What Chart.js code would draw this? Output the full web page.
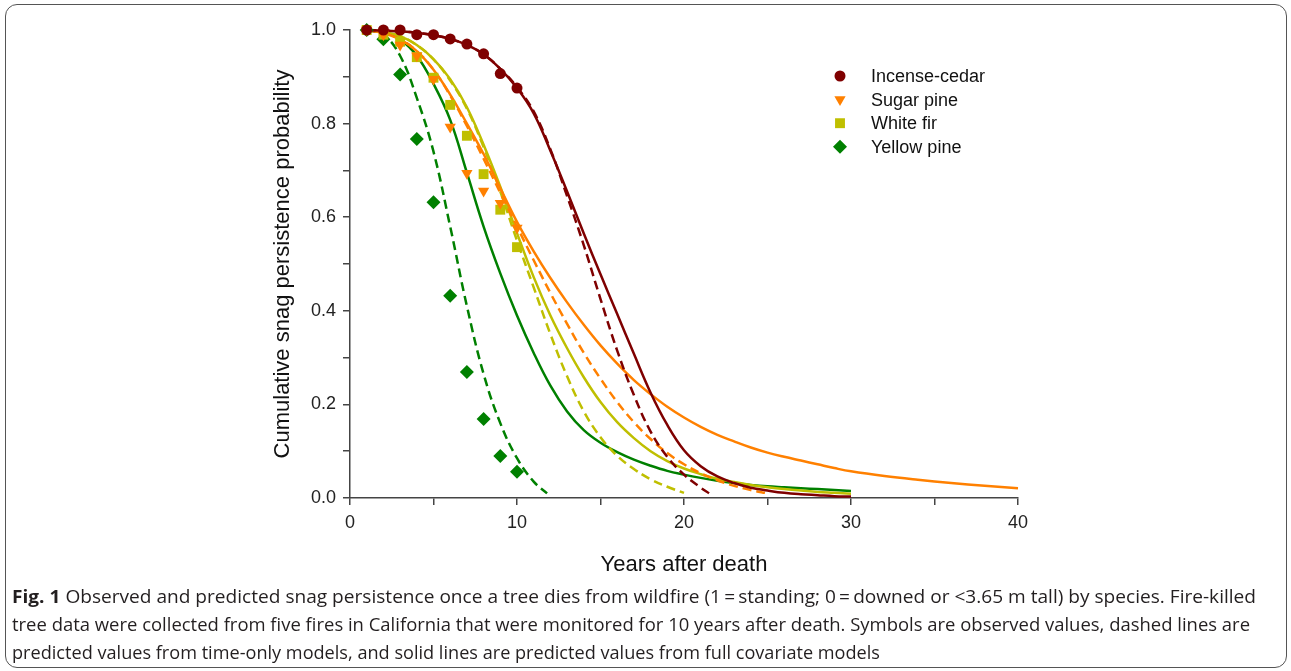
<!DOCTYPE html>
<html lang="en">
<head>
<meta charset="UTF-8">
<title>Snag persistence</title>
<script src="https://cdn.jsdelivr.net/npm/chart.js"></script>
<style>
  body { margin: 0; background: #fff; width: 1291px; height: 671px; overflow: hidden; position: relative; }
  .frame { position: absolute; left: 5px; top: 4px; width: 1282px; height: 664px; box-sizing: border-box;
           border: 1.5px solid #555; border-radius: 12px; }
  #chart { position: absolute; left: 0; top: 0; }
  .caption { position: absolute; left: 12px; top: 582px; font-family: "Open Sans", sans-serif; font-size: 18px;
             line-height: 28px; color: #231f20; }
  .caption span { display: inline-block; white-space: nowrap; transform-origin: 0 50%; }
</style>
</head>
<body>
<div class="frame"></div>
<canvas id="chart" width="1291" height="600"></canvas>
<div class="caption">
  <span data-end="1256"><b>Fig. 1</b> Observed and predicted snag persistence once a tree dies from wildfire (1&#8201;=&#8201;standing; 0&#8201;=&#8201;downed or &lt;3.65 m tall) by species. Fire-killed</span><br>
  <span data-end="1250">tree data were collected from five fires in California that were monitored for 10 years after death. Symbols are observed values, dashed lines are</span><br>
  <span data-end="880">predicted values from time-only models, and solid lines are predicted values from full covariate models</span>
</div>
<script>
// species
const speciesNames = ['Incense-cedar', 'Sugar pine', 'White fir', 'Yellow pine'];
const speciesColors = ['#7f0000', '#ff8000', '#bfbf00', '#008000'];

// observed values, years 1-10
const obsYears = [1, 2, 3, 4, 5, 6, 7, 8, 9, 10];
const cedarObs = [1.0, 1.0, 1.0, 0.99, 0.99, 0.981, 0.97, 0.949, 0.907, 0.876];
const sugarObs = [1.0, 0.99, 0.968, 0.945, 0.895, 0.793, 0.694, 0.656, 0.63, 0.577];
const firObs = [1.0, 0.99, 0.975, 0.942, 0.898, 0.84, 0.774, 0.692, 0.616, 0.536];
const yellowObs = [1.0, 0.98, 0.905, 0.767, 0.632, 0.432, 0.269, 0.169, 0.09, 0.056];

// full covariate models (solid)
const cedarFullX = [1, 2, 3, 4, 5, 6, 7, 8, 9, 10, 11, 12, 13, 14, 15, 16, 17, 18, 19, 20, 21, 22, 23, 24, 25, 26, 27, 28, 29, 30];
const cedarFullY = [1.0, 0.999, 0.997, 0.994, 0.989, 0.981, 0.968, 0.948, 0.917, 0.876, 0.822, 0.742, 0.655, 0.565, 0.478, 0.393, 0.308, 0.225, 0.156, 0.102, 0.068, 0.046, 0.032, 0.022, 0.016, 0.011, 0.008, 0.006, 0.004, 0.003];
const sugarFullX = [1, 2, 3, 4, 5, 6, 7, 8, 9, 10, 11, 12, 13, 14, 15, 16, 17, 18, 19, 20, 21, 22, 23, 24, 25, 26, 27, 28, 29, 30, 32, 34, 36, 38, 40];
const sugarFullY = [1.0, 0.993, 0.98, 0.955, 0.915, 0.862, 0.8, 0.735, 0.662, 0.59, 0.527, 0.47, 0.418, 0.37, 0.326, 0.287, 0.252, 0.222, 0.195, 0.172, 0.152, 0.135, 0.121, 0.108, 0.097, 0.088, 0.08, 0.072, 0.064, 0.057, 0.047, 0.039, 0.032, 0.026, 0.021];
const firFullX = [1, 2, 3, 4, 5, 6, 7, 8, 9, 10, 11, 12, 13, 14, 15, 16, 17, 18, 19, 20, 21, 22, 23, 24, 25, 26, 27, 28, 29, 30];
const firFullY = [1.0, 0.996, 0.987, 0.968, 0.938, 0.895, 0.835, 0.755, 0.665, 0.566, 0.472, 0.39, 0.32, 0.258, 0.205, 0.162, 0.128, 0.1, 0.079, 0.063, 0.051, 0.041, 0.034, 0.028, 0.023, 0.019, 0.016, 0.013, 0.011, 0.009];
const yellowFullX = [1, 2, 3, 4, 5, 6, 7, 8, 9, 10, 11, 12, 13, 14, 15, 16, 17, 18, 19, 20, 21, 22, 23, 24, 25, 26, 27, 28, 29, 30];
const yellowFullY = [1.0, 0.995, 0.98, 0.945, 0.885, 0.808, 0.695, 0.58, 0.48, 0.39, 0.31, 0.24, 0.185, 0.145, 0.118, 0.098, 0.082, 0.069, 0.058, 0.05, 0.043, 0.037, 0.032, 0.028, 0.025, 0.023, 0.021, 0.019, 0.017, 0.015];

// time-only models (dashed)
const cedarTimeX = [1, 2, 3, 4, 5, 6, 7, 8, 9, 10, 11, 12, 13, 14, 15, 16, 17, 18, 19, 20, 21, 21.5];
const cedarTimeY = [1.0, 0.999, 0.997, 0.994, 0.989, 0.981, 0.968, 0.948, 0.917, 0.878, 0.826, 0.745, 0.645, 0.54, 0.425, 0.315, 0.22, 0.142, 0.088, 0.05, 0.022, 0.01];
const sugarTimeX = [1, 2, 3, 4, 5, 6, 7, 8, 9, 10, 11, 12, 13, 14, 15, 16, 17, 18, 19, 20, 21, 22, 23, 24, 25];
const sugarTimeY = [1.0, 0.993, 0.98, 0.955, 0.915, 0.86, 0.795, 0.725, 0.652, 0.58, 0.508, 0.438, 0.372, 0.31, 0.255, 0.205, 0.162, 0.126, 0.096, 0.072, 0.053, 0.038, 0.026, 0.017, 0.01];
const firTimeX = [1, 2, 3, 4, 5, 6, 7, 8, 9, 10, 11, 12, 13, 14, 15, 16, 17, 18, 19, 20];
const firTimeY = [1.0, 0.996, 0.987, 0.968, 0.937, 0.892, 0.832, 0.75, 0.655, 0.55, 0.45, 0.35, 0.26, 0.185, 0.13, 0.09, 0.062, 0.04, 0.024, 0.011];
const yellowTimeX = [1, 2, 3, 4, 5, 6, 7, 8, 9, 10, 11, 11.8];
const yellowTimeY = [1.0, 0.99, 0.945, 0.855, 0.74, 0.58, 0.41, 0.265, 0.16, 0.085, 0.035, 0.01];

// markers
const markerStyles = ['circle', 'triangle', 'rect', 'rectRot'];
const markerRadius = [5.5, 6.5, 7, 7];
const markerRotation = [0, 180, 0, 0];

function pts(xs, ys) {
  return xs.map((x, i) => ({ x: x, y: ys[i] }));
}

const obsSeries = [cedarObs, sugarObs, firObs, yellowObs];
const fullSeries = [[cedarFullX, cedarFullY], [sugarFullX, sugarFullY], [firFullX, firFullY], [yellowFullX, yellowFullY]];
const timeSeries = [[cedarTimeX, cedarTimeY], [sugarTimeX, sugarTimeY], [firTimeX, firTimeY], [yellowTimeX, yellowTimeY]];

const datasets = [];
speciesNames.forEach((name, i) => {
  datasets.push({
    label: name + ' (full)', data: pts(fullSeries[i][0], fullSeries[i][1]), showLine: true,
    borderColor: speciesColors[i], borderWidth: 2.5, pointRadius: 0, tension: 0.4,
    clip: false, order: 2
  });
  datasets.push({
    label: name + ' (time)', data: pts(timeSeries[i][0], timeSeries[i][1]), showLine: true,
    borderColor: speciesColors[i], borderWidth: 2.5, borderDash: [9, 5], pointRadius: 0,
    tension: 0.4, clip: false, order: 2
  });
  datasets.push({
    label: name, data: pts(obsYears, obsSeries[i]), showLine: false,
    pointStyle: markerStyles[i], pointRadius: markerRadius[i], pointRotation: markerRotation[i],
    backgroundColor: speciesColors[i], borderColor: speciesColors[i], borderWidth: 0, clip: false, order: 1
  });
});

const legendPlugin = {
  id: 'speciesLegend',
  afterDraw(chart) {
    const ctx = chart.ctx;
    ctx.save();
    speciesNames.forEach((name, i) => {
      const y = 76 + i * 23.6;
      ctx.fillStyle = speciesColors[i];
      ctx.strokeStyle = speciesColors[i];
      Chart.helpers.drawPoint(ctx, { pointStyle: markerStyles[i], radius: markerRadius[i], rotation: markerRotation[i], borderWidth: 0 }, 840, y);
      ctx.fillStyle = '#111';
      ctx.font = '18px "Liberation Sans", Arial, sans-serif';
      ctx.textBaseline = 'middle';
      ctx.textAlign = 'left';
      ctx.fillText(name, 871, y + 1);
    });
    ctx.restore();
  }
};

function noPad(s) {
  s.paddingTop = 0; s.paddingBottom = 0; s.paddingLeft = 0; s.paddingRight = 0;
}

const axisFont = { family: '"Liberation Sans", Arial, sans-serif', size: 18 };
const titleFont = { family: '"Liberation Sans", Arial, sans-serif', size: 22 };

new Chart(document.getElementById('chart'), {
  type: 'scatter',
  data: { datasets: datasets },
  options: {
    responsive: false,
    animation: false,
    layout: { padding: { left: 260, right: 273, top: 30, bottom: 12 } },
    plugins: { legend: { display: false }, tooltip: { enabled: false } },
    scales: {
      x: {
        type: 'linear', min: 0, max: 40,
        ticks: { stepSize: 5, color: '#222', font: axisFont, padding: 7,
                 callback: v => (v % 10 === 0 ? String(v) : '') },
        grid: { drawOnChartArea: false, drawTicks: true, tickLength: 7, color: '#444', lineWidth: 1.5 },
        border: { display: true, color: '#444', width: 1.5 },
        title: { display: true, text: 'Years after death', color: '#111', font: titleFont, padding: { top: 0, bottom: 10 } },
        afterFit: s => { s.height = 90; noPad(s); }
      },
      y: {
        type: 'linear', min: 0, max: 1,
        ticks: { stepSize: 0.1, color: '#222', font: axisFont, padding: 7,
                 callback: v => (Math.round(v * 10) % 2 === 0 ? v.toFixed(1) : '') },
        grid: { drawOnChartArea: false, drawTicks: true, tickLength: 7, color: '#444', lineWidth: 1.5 },
        border: { display: true, color: '#444', width: 1.5 },
        title: { display: true, text: 'Cumulative snag persistence probability', color: '#111', font: titleFont, padding: { top: 10, bottom: 0 } },
        afterFit: s => { s.width = 90; noPad(s); }
      }
    }
  },
  plugins: [legendPlugin]
});

// squeeze each caption line to where the original line ends
document.querySelectorAll('.caption span').forEach(l => {
  const r = l.getBoundingClientRect();
  const k = (Number(l.dataset.end) - r.left) / r.width;
  l.style.transform = 'scaleX(' + k + ')';
});
</script>
</body>
</html>
